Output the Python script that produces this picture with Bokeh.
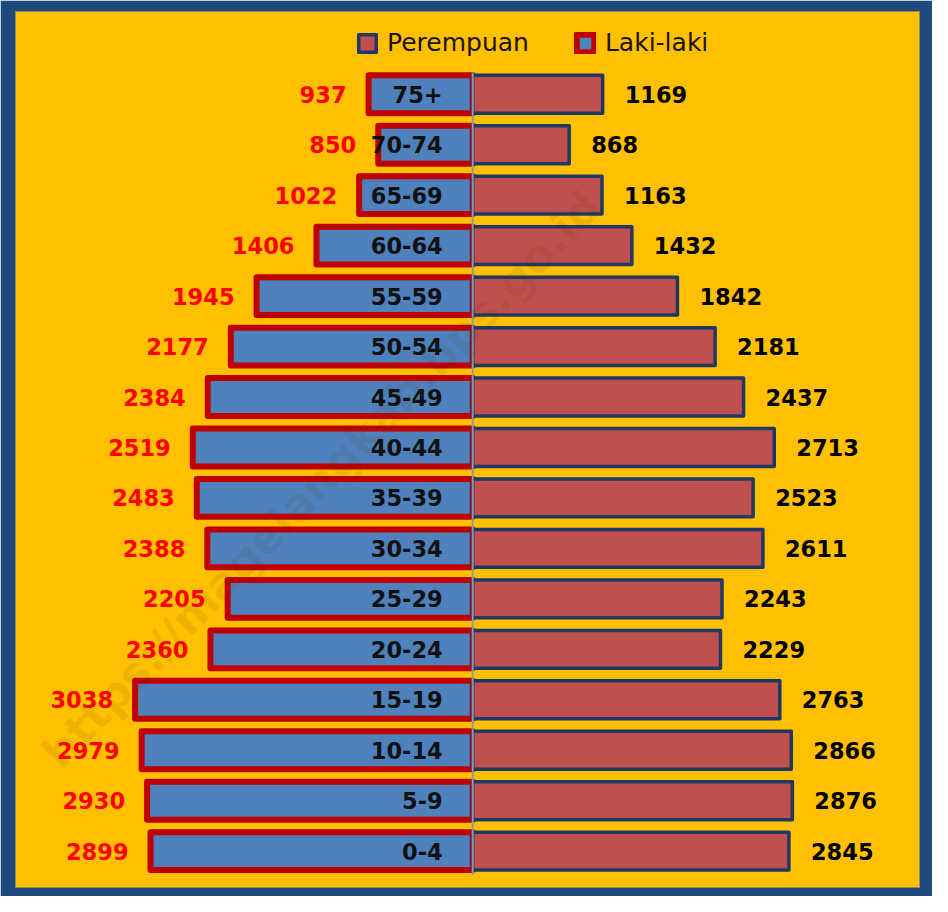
from bokeh.plotting import figure
from bokeh.models import Range1d, Legend, LegendItem, ColumnDataSource
from bokeh.core.properties import value
from bokeh.embed import file_html
from bokeh.resources import INLINE
import math

# ---- data (bottom to top) ----
age_groups = ["0-4", "5-9", "10-14", "15-19", "20-24", "25-29", "30-34", "35-39",
              "40-44", "45-49", "50-54", "55-59", "60-64", "65-69", "70-74", "75+"]
laki_laki = [2899, 2930, 2979, 3038, 2360, 2205, 2388, 2483,
             2519, 2384, 2177, 1945, 1406, 1022, 850, 937]
perempuan = [2845, 2876, 2866, 2763, 2229, 2243, 2611, 2523,
             2713, 2437, 2181, 1842, 1432, 1163, 868, 1169]
watermark = "https://magelangkab.bps.go.id"

pos = list(range(len(age_groups)))

src = ColumnDataSource(dict(
    y=pos,
    age=age_groups,
    left_val=[-v for v in laki_laki],
    right_val=perempuan,
    left_txt=[str(v) for v in laki_laki],
    right_txt=[str(v) for v in perempuan],
    zero=[0] * len(pos),
))

FONT = value("DejaVu Sans")

p = figure(width=932, height=896, output_backend="svg", toolbar_location=None,
           x_range=Range1d(-4114, 4020), y_range=Range1d(-0.72, 16.64),
           x_axis_type=None, y_axis_type=None,
           min_border_left=15, min_border_right=13, min_border_top=11, min_border_bottom=9)
p.border_fill_color = "#1F497D"
p.background_fill_color = "#FFC000"
p.outline_line_color = "#8C8C5A"
p.outline_line_width = 1
p.xgrid.visible = False
p.ygrid.visible = False

# bars
r_left = p.hbar(y="y", left="left_val", right="zero", height=0.75, source=src,
                fill_color="#4F81BD", line_color="#C00000", line_width=6,
                line_join="round")
r_right = p.hbar(y="y", left="zero", right="right_val", height=0.75, source=src,
                 fill_color="#C0504D", line_color="#1F3864", line_width=3.5,
                 line_join="round")

# center line
p.segment(x0=[0], y0=[-0.47], x1=[0], y1=[15.43], line_color="#8E99A8", line_width=2)

# labels
p.text(x="left_val", y="y", text="left_txt", source=src, x_offset=-22,
       text_font=FONT, text_font_style="bold", text_font_size="22.5px",
       text_align="right", text_baseline="middle", text_color="#FF0000")
p.text(x="right_val", y="y", text="right_txt", source=src, x_offset=22,
       text_font=FONT, text_font_style="bold", text_font_size="22.5px",
       text_align="left", text_baseline="middle", text_color="#000000")
p.text(x="zero", y="y", text="age", source=src, x_offset=-30,
       text_font=FONT, text_font_style="bold", text_font_size="22.5px",
       text_align="right", text_baseline="middle", text_color="#111111")

# watermark (over the bars, faint)
p.text(x=[-1360], y=[7.36], text=[watermark], angle=math.radians(46),
       text_font=FONT, text_font_style="bold", text_font_size="45px",
       text_align="center", text_baseline="middle",
       text_color="#4a3200", text_alpha=0.09)

legend = Legend(items=[LegendItem(label="Perempuan", renderers=[r_right]),
                       LegendItem(label="Laki-laki", renderers=[r_left])],
                orientation="horizontal", location=(341, 830),
                label_text_font="DejaVu Sans", label_text_font_size="25px",
                label_text_color="#1a1400",
                glyph_width=22, glyph_height=22, label_height=28,
                label_standoff=9, spacing=45, padding=0, margin=0,
                border_line_alpha=0, background_fill_alpha=0)
p.add_layout(legend)

open("out.html", "w").write(file_html(p, INLINE))
